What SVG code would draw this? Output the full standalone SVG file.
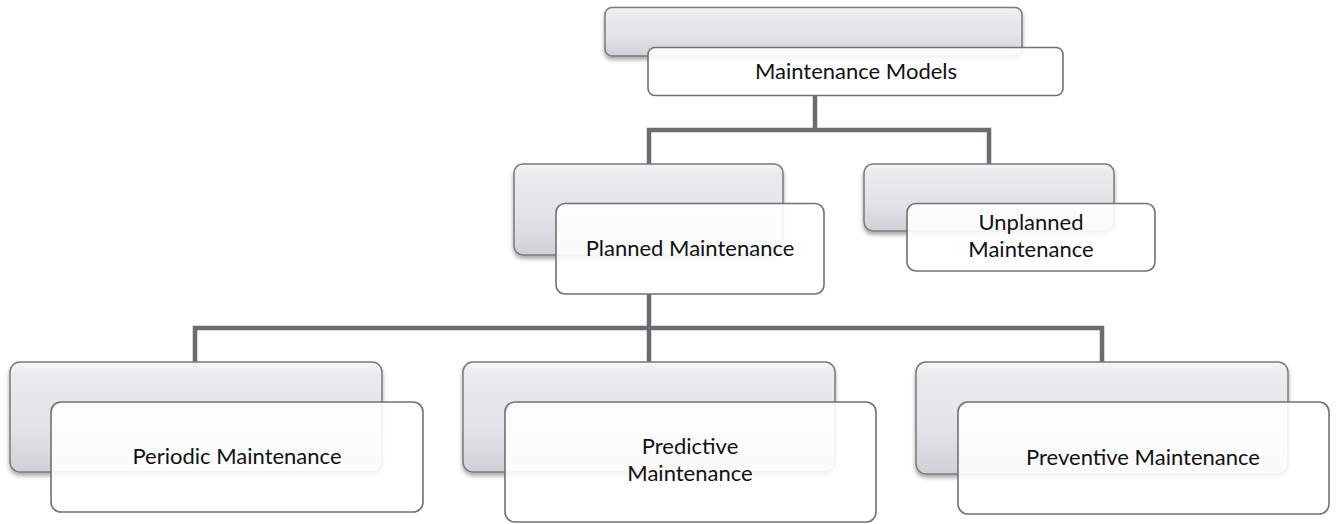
<svg xmlns="http://www.w3.org/2000/svg" width="1336" height="524" viewBox="0 0 1336 524">
<defs>
<linearGradient id="bg" x1="0" y1="0" x2="0" y2="1">
<stop offset="0" stop-color="#f4f5f6"/>
<stop offset="0.12" stop-color="#e9ebed"/>
<stop offset="0.6" stop-color="#e1e3e6"/>
<stop offset="1" stop-color="#cfd1d4"/>
</linearGradient>
<filter id="sh" x="-10%" y="-20%" width="120%" height="150%">
<feDropShadow dx="0" dy="3" stdDeviation="2.2" flood-color="#000" flood-opacity="0.35"/>
</filter>
</defs>
<style>
.back{fill:url(#bg);stroke:#7a7a7a;stroke-width:1.5;filter:url(#sh)}
.front{fill:#ffffff;fill-opacity:0.9;stroke:#717171;stroke-width:1.6}
.conn{fill:none;stroke:#6b6c6f;stroke-width:4.5;stroke-linejoin:miter}
text{font-family:Lato,"Liberation Sans",sans-serif;font-size:22px;fill:#111;text-anchor:middle}
</style>
<rect width="1336" height="524" fill="#ffffff"/>
<g id="connectors">
<path class="conn" d="M815 95 V130 M649 164 V130 H989 V164"/>
<path class="conn" d="M649 294 V328 M195 362 V328 H1102 V362 M649 328 V362"/>
</g>
<g id="node-models">
<rect class="back" x="605" y="7.5" width="417" height="48.5" rx="7"/>
<rect class="front" x="648" y="47.5" width="415" height="48" rx="7"/>
<text x="856" y="79">Maintenance Models</text>
</g>
<g id="node-planned">
<rect class="back" x="514" y="164" width="269" height="91" rx="9"/>
<rect class="front" x="556" y="203.5" width="268" height="90.5" rx="9"/>
<text x="690" y="256">Planned Maintenance</text>
</g>
<g id="node-unplanned">
<rect class="back" x="864" y="164" width="250" height="67" rx="9"/>
<rect class="front" x="907" y="203.5" width="248" height="67.5" rx="9"/>
<text x="1031" y="230">Unplanned</text>
<text x="1031" y="257">Maintenance</text>
</g>
<g id="node-periodic">
<rect class="back" x="10" y="362" width="372" height="110" rx="10"/>
<rect class="front" x="51" y="402" width="372" height="110" rx="10"/>
<text x="237" y="464">Periodic Maintenance</text>
</g>
<g id="node-predictive">
<rect class="back" x="463" y="362" width="372" height="110" rx="10"/>
<rect class="front" x="505" y="402" width="371" height="120" rx="10"/>
<text x="690" y="454">Predictive</text>
<text x="690" y="481">Maintenance</text>
</g>
<g id="node-preventive">
<rect class="back" x="916" y="362" width="372" height="112" rx="10"/>
<rect class="front" x="958" y="402" width="371" height="112" rx="10"/>
<text x="1143" y="465">Preventive Maintenance</text>
</g>
</svg>
